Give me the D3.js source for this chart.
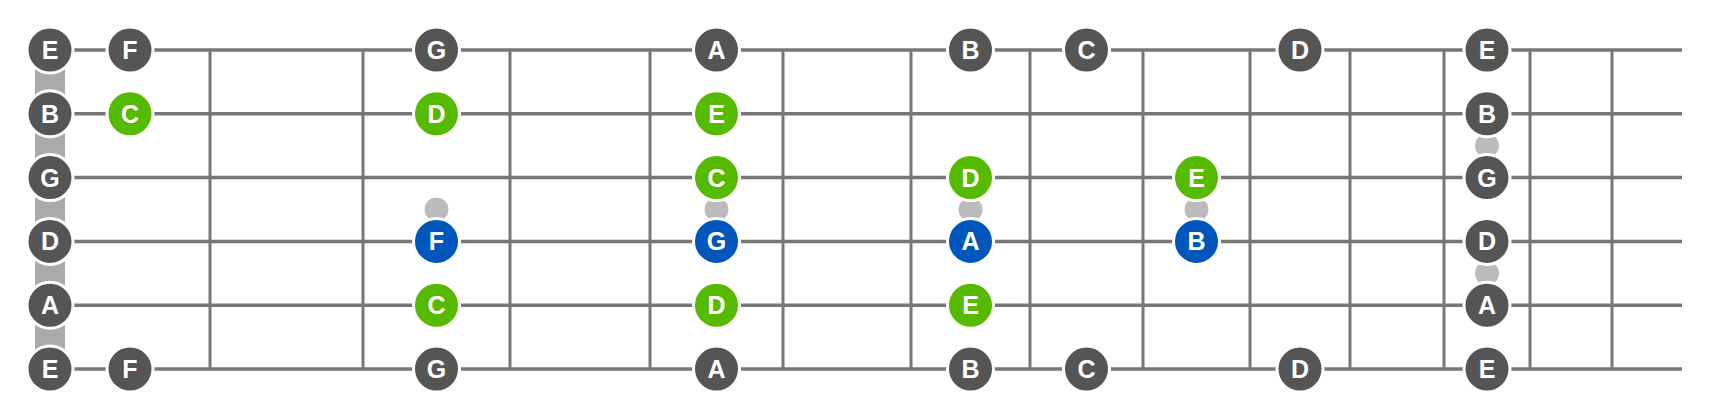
<!DOCTYPE html>
<html><head><meta charset="utf-8">
<script src="https://cdn.jsdelivr.net/npm/d3@7"></script>
<style>body{margin:0;background:#fff}</style></head>
<body><svg id="c" width="1732" height="420"></svg>
<script>
const strings = ["E","B","G","D","A","E"];
const fretLinePos = [50,210,363,510,650,783,911,1030,1143,1250,1350,1444,1530,1612]; // index 0 = nut
const stringEnd = 1682;
const notes = [
  // [stringIndex, fret, label, kind]
  [0,0,"E","o"],[0,1,"F","o"],[0,3,"G","o"],[0,5,"A","o"],[0,7,"B","o"],[0,8,"C","o"],[0,10,"D","o"],[0,12,"E","o"],
  [1,0,"B","o"],[1,1,"C","g"],[1,3,"D","g"],[1,5,"E","g"],[1,12,"B","o"],
  [2,0,"G","o"],[2,5,"C","g"],[2,7,"D","g"],[2,9,"E","g"],[2,12,"G","o"],
  [3,0,"D","o"],[3,3,"F","b"],[3,5,"G","b"],[3,7,"A","b"],[3,9,"B","b"],[3,12,"D","o"],
  [4,0,"A","o"],[4,3,"C","g"],[4,5,"D","g"],[4,7,"E","g"],[4,12,"A","o"],
  [5,0,"E","o"],[5,1,"F","o"],[5,3,"G","o"],[5,5,"A","o"],[5,7,"B","o"],[5,8,"C","o"],[5,10,"D","o"],[5,12,"E","o"]
];
const links = [[2,3,3],[2,3,5],[2,3,7],[2,3,9],[1,2,12],[3,4,12]]; // [upperString, lowerString, fret]
const colors = {o:"#555555", g:"#56bb00", b:"#0057bb"};

const svg = d3.select("#c");
const y = d3.scalePoint().domain(d3.range(strings.length)).range([50,369]);
const fx = d3.scaleLinear().domain(d3.range(fretLinePos.length)).range(fretLinePos);
const noteX = f => f===0 ? fx(0) : (fx(f-1)+fx(f))/2;

// nut bar
svg.append("rect").attr("x",fx(0)-15).attr("y",y(0)).attr("width",30).attr("height",y(5)-y(0)).attr("fill","#aaaaaa");
// frets
svg.selectAll("line.f").data(d3.range(1,fretLinePos.length)).join("line")
  .attr("x1",d=>fx(d)).attr("x2",d=>fx(d)).attr("y1",y(0)).attr("y2",y(5))
  .attr("stroke","#777").attr("stroke-width",3);
// strings
svg.selectAll("line.s").data(d3.range(strings.length)).join("line")
  .attr("x1",fx(0)).attr("x2",stringEnd).attr("y1",d=>y(d)).attr("y2",d=>y(d))
  .attr("stroke","#777").attr("stroke-width",3.5);
// link dots
svg.selectAll("circle.l").data(links).join("circle")
  .attr("cx",d=>noteX(d[2])).attr("cy",d=>(y(d[0])+y(d[1]))/2).attr("r",12.5)
  .attr("fill","#bbbbbb").attr("stroke","#fff").attr("stroke-width",1);
// notes
const g = svg.selectAll("g.n").data(notes).join("g")
  .attr("transform",d=>`translate(${noteX(d[1])},${y(d[0])})`);
g.append("circle").attr("r",23).attr("fill",d=>colors[d[3]]).attr("stroke","#fff").attr("stroke-width",3);
g.append("text").text(d=>d[2]).attr("text-anchor","middle").attr("dy","0.36em")
  .attr("fill","#fff").attr("font-family","Liberation Sans, Arial, sans-serif")
  .attr("font-weight","bold").attr("font-size",25);
</script></body></html>
